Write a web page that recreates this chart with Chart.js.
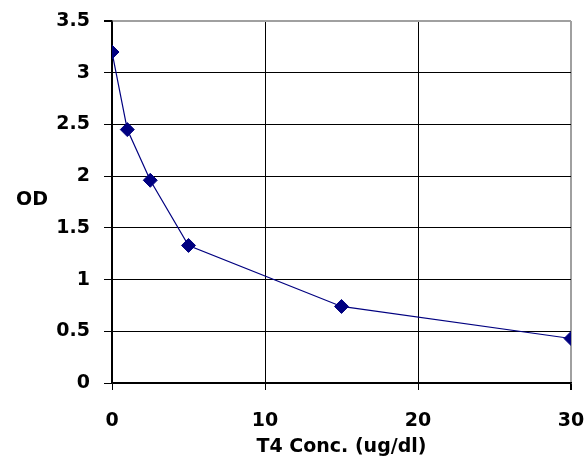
<!DOCTYPE html>
<html>
<head>
<meta charset="utf-8">
<script src="https://cdn.jsdelivr.net/npm/chart.js@4"></script>
<style>
  html, body { margin: 0; padding: 0; background: #fff; }
  #wrap { width: 584px; height: 462px; }
</style>
</head>
<body>
<div id="wrap"><canvas id="chart"></canvas></div>
<script>
const concentrations = [0, 1, 2.5, 5, 15, 30];
const odValues = [3.2, 2.45, 1.96, 1.33, 0.74, 0.43];
const xTicks = [0, 10, 20, 30];
const yTicks = [0, 0.5, 1, 1.5, 2, 2.5, 3, 3.5];

const FONT_FAMILY = "'DejaVu Sans', Verdana, sans-serif";
const FONT = { family: FONT_FAMILY, size: 19, weight: 'bold' };

// horizontal "OD" label beside the y axis
const yTitlePlugin = {
    id: 'yTitle',
    afterDraw(chart) {
        const ctx = chart.ctx;
        ctx.save();
        ctx.font = `bold 19px ${FONT_FAMILY}`;
        ctx.fillStyle = '#000';
        ctx.textAlign = 'center';
        ctx.textBaseline = 'middle';
        ctx.fillText('OD', 32, 200);
        ctx.restore();
    }
};

new Chart(document.getElementById('chart'), {
    type: 'scatter',
    data: {
        datasets: [{
            data: concentrations.map((x, i) => ({ x: x, y: odValues[i] })),
            showLine: true,
            borderColor: '#000080',
            backgroundColor: '#000080',
            borderWidth: 1.2,
            pointStyle: 'rectRot',
            pointRadius: 7,
            pointBorderWidth: 1,
            pointBorderColor: '#000080',
            pointBackgroundColor: '#000080'
        }]
    },
    options: {
        responsive: true,
        maintainAspectRatio: false,
        animation: false,
        layout: { padding: { left: 0, right: 13, top: 21, bottom: 0 } },
        plugins: { legend: { display: false }, tooltip: { enabled: false } },
        scales: {
            x: {
                type: 'linear',
                min: 0,
                max: 30,
                afterBuildTicks: (scale) => { scale.ticks = xTicks.map(v => ({ value: v })); },
                afterFit: (scale) => {
                    scale.height = 79;
                    scale.paddingLeft = 0;
                    scale.paddingRight = 0;
                },
                grid: {
                    color: (c) => c.tick && c.tick.value === 30 ? '#a0a0a0' : '#000',
                    lineWidth: (c) => c.tick && c.tick.value === 30 ? 2 : 1,
                    tickColor: '#000',
                    tickLength: 7
                },
                border: { color: '#000', width: 1.5 },
                ticks: { color: '#000', font: FONT, padding: 20, maxRotation: 0, callback: (v) => String(v) },
                title: { display: true, text: 'T4 Conc. (ug/dl)', color: '#000', font: FONT, padding: { top: 0, bottom: 4 } }
            },
            y: {
                min: 0,
                max: 3.5,
                afterBuildTicks: (scale) => { scale.ticks = yTicks.map(v => ({ value: v })); },
                afterFit: (scale) => {
                    scale.width = 112;
                    scale.paddingTop = 0;
                    scale.paddingBottom = 0;
                },
                grid: {
                    color: (c) => c.tick && c.tick.value === 3.5 ? '#a0a0a0' : '#000',
                    lineWidth: (c) => c.tick && c.tick.value === 3.5 ? 2 : 1,
                    tickColor: '#000',
                    tickLength: 8
                },
                border: { color: '#000', width: 1.5 },
                ticks: { color: '#000', font: FONT, padding: 14, callback: (v) => String(v) }
            }
        }
    },
    plugins: [yTitlePlugin]
});
</script>
</body>
</html>
